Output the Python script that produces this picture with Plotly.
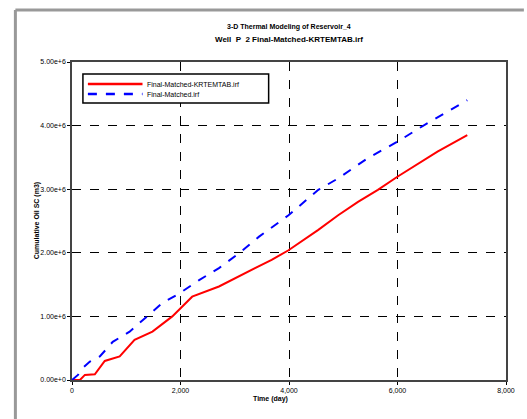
import plotly.graph_objects as go

# Data
red_name = "Final-Matched-KRTEMTAB.irf"
red_days = [0, 146, 238, 421, 604, 879, 1153, 1483, 1849, 2032, 2215, 2709, 3204, 3680, 3991,
            4540, 4906, 5272, 5638, 6005, 6737, 7286]
red_oil = [0, 0, 0.08e6, 0.09e6, 0.30e6, 0.37e6, 0.63e6, 0.76e6, 1.00e6, 1.15e6, 1.31e6, 1.47e6,
           1.68e6, 1.89e6, 2.04e6, 2.36e6, 2.59e6, 2.80e6, 2.99e6, 3.20e6, 3.59e6, 3.85e6]

blue_name = "Final-Matched.irf"
blue_days = [0, 110, 201, 330, 513, 751, 1062, 1373, 1666, 1977, 2343, 2709, 3076, 3442, 3991,
             4540, 4906, 5455, 6005, 6554, 7286]
blue_oil = [0, 0.08e6, 0.19e6, 0.29e6, 0.37e6, 0.60e6, 0.76e6, 1.00e6, 1.21e6, 1.36e6, 1.57e6,
            1.76e6, 1.99e6, 2.25e6, 2.59e6, 2.99e6, 3.17e6, 3.49e6, 3.75e6, 4.04e6, 4.40e6]

x_ticks = [0, 2000, 4000, 6000, 8000]
y_ticks = [0, 1e6, 2e6, 3e6, 4e6, 5e6]

title1 = "3-D Thermal Modeling of Reservoir_4"
title2 = "Well  P  2 Final-Matched-KRTEMTAB.irf"
x_title = "Time (day)"
y_title = "Cumulative Oil SC (m3)"

W, H = 527, 419
L, R, T, B = 72, 509, 62, 380

def px(x):
    return (x - L) / (R - L)

def py(y):
    return (B - y) / (B - T)

RED = "#ff0000"
BLUE = "#0000ff"

fig = go.Figure()
fig.add_trace(go.Scatter(x=red_days, y=red_oil, mode="lines", name=red_name,
                         line=dict(color=RED, width=2)))
fig.add_trace(go.Scatter(x=blue_days, y=blue_oil, mode="lines", name=blue_name,
                         line=dict(color=BLUE, width=2, dash="dash")))

axis_common = dict(
    showline=True, linecolor="#444", linewidth=1.5, mirror=True,
    showgrid=True, gridcolor="#000", gridwidth=1, griddash="dash",
    ticks="outside", ticklen=3, tickcolor="#000", tickwidth=1,
    zeroline=False,
    tickfont=dict(family="Liberation Sans, Arial", size=7, color="#000"),
)

fig.update_layout(
    width=W, height=H,
    margin=dict(l=L, r=W - R, t=T, b=H - B),
    paper_bgcolor="white", plot_bgcolor="white",
    showlegend=False,
    xaxis=dict(range=[0, 8000], tickvals=x_ticks, tickformat=",d", **axis_common),
    yaxis=dict(range=[0, 5e6], tickvals=y_ticks, tickformat=".2e", **axis_common),
)

font_b = dict(family="Liberation Sans, Arial", size=7, color="#000")
fig.add_annotation(text="<b>" + title1 + "</b>", xref="paper", yref="paper",
                   x=px(290), y=py(21), showarrow=False, font=font_b)
fig.add_annotation(text="<b>" + title2 + "</b>", xref="paper", yref="paper",
                   x=px(290), y=py(33), showarrow=False,
                   font=dict(family="Liberation Sans, Arial", size=8, color="#000"))
fig.add_annotation(text="<b>" + x_title + "</b>", xref="paper", yref="paper",
                   x=px(272), y=py(405), showarrow=False, font=font_b)
fig.add_annotation(text="<b>" + y_title + "</b>", xref="paper", yref="paper",
                   x=px(31), y=py(221), showarrow=False, textangle=-90, font=font_b)

# legend box drawn manually (compact like the reference)
fig.add_shape(type="rect", xref="paper", yref="paper",
              x0=px(83), x1=px(270), y0=py(74), y1=py(103),
              line=dict(color="#000", width=1.5), fillcolor="white", layer="above")
legend_items = [(red_name, RED, "solid", 84), (blue_name, BLUE, "dash", 94)]
for name, col, dash, yy in legend_items:
    fig.add_shape(type="line", xref="paper", yref="paper",
                  x0=px(88), x1=px(143), y0=py(yy), y1=py(yy),
                  line=dict(color=col, width=2.5, dash=dash), layer="above")
    fig.add_annotation(text=name, xref="paper", yref="paper",
                       x=px(146), y=py(yy), xanchor="left", yanchor="middle",
                       showarrow=False,
                       font=dict(family="Liberation Sans, Arial", size=7, color="#000"))

# window frame (gray lines top and left)
fig.add_shape(type="line", xref="paper", yref="paper",
              x0=px(15), x1=px(527), y0=py(10), y1=py(10),
              line=dict(color="#999", width=3))
fig.add_shape(type="line", xref="paper", yref="paper",
              x0=px(15), x1=px(15), y0=py(10), y1=py(419),
              line=dict(color="#999", width=3))

fig.write_html("out.html")
